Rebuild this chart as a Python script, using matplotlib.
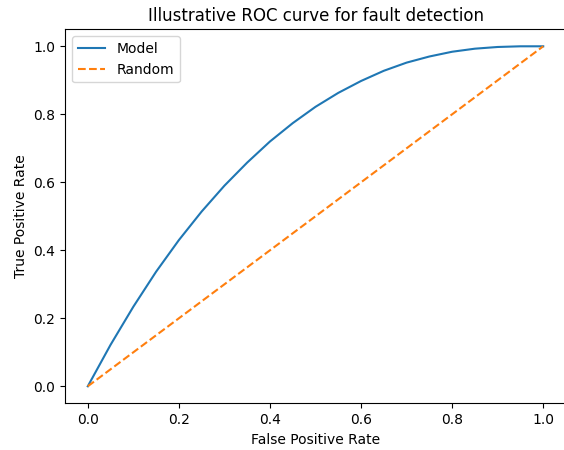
import matplotlib
matplotlib.use("Agg")
import matplotlib.pyplot as plt

fpr = [0.0, 0.05, 0.1, 0.15, 0.2, 0.25, 0.3, 0.35, 0.4, 0.45, 0.5,
       0.55, 0.6, 0.65, 0.7, 0.75, 0.8, 0.85, 0.9, 0.95, 1.0]
tpr = [0.000, 0.122, 0.234, 0.337, 0.430, 0.514, 0.590, 0.658, 0.720, 0.774, 0.822,
       0.863, 0.898, 0.928, 0.952, 0.970, 0.984, 0.993, 0.998, 1.000, 1.000]
random_x = [0.0, 1.0]
random_y = [0.0, 1.0]

plt.rcParams['font.size'] = 10
fig = plt.figure(figsize=(5.64, 4.5), dpi=100)
ax = fig.add_axes([65/564, (450-403.3)/450, (566-65)/564, (403.3-29.3)/450])
ax.plot(fpr, tpr, color='#1f77b4', lw=1.5, label='Model')
ax.plot(random_x, random_y, color='#ff7f0e', lw=1.5, ls='--', label='Random')
ax.set_xlabel('False Positive Rate')
ax.set_ylabel('True Positive Rate')
ax.set_title('Illustrative ROC curve for fault detection', fontsize=12)
ax.legend(loc='upper left')
fig.savefig('out.png', dpi=100)
